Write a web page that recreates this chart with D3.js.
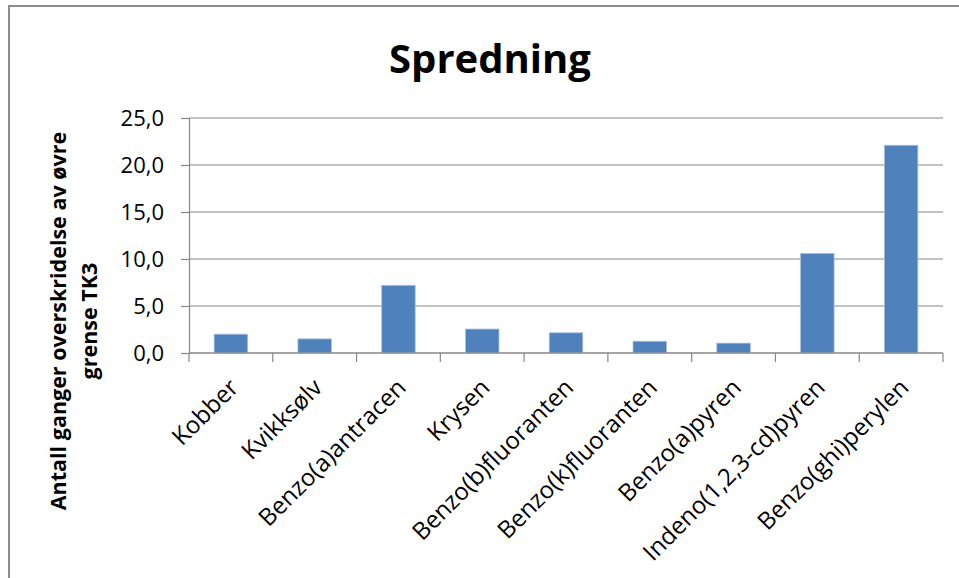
<!DOCTYPE html>
<html>
<head>
<meta charset="utf-8">
<script src="https://cdn.jsdelivr.net/npm/d3@7"></script>
<style>
  body { margin: 0; background: #fff; }
  text { font-family: "Open Sans", "Noto Sans", sans-serif; fill: #000; }
</style>
</head>
<body>
<svg id="chart" width="959" height="578"></svg>
<script>
var categories = [
  'Kobber', 'Kvikksølv', 'Benzo(a)antracen', 'Krysen', 'Benzo(b)fluoranten',
  'Benzo(k)fluoranten', 'Benzo(a)pyren', 'Indeno(1,2,3-cd)pyren', 'Benzo(ghi)perylen'
];
var values = [2.0, 1.5, 7.2, 2.55, 2.15, 1.25, 1.05, 10.6, 22.1];
var yTicks = [0, 5, 10, 15, 20, 25];
var title = 'Spredning';
var yTitle = ['Antall ganger overskridelse av øvre', 'grense TK3'];

var svg = d3.select('#chart');
var plotLeft = 189, plotRight = 943, plotTop = 118, plotBottom = 353;
var gridColor = '#878787';

// outer frame of the chart area (runs off the right and bottom edges)
svg.append('rect')
  .attr('x', 9).attr('y', 6)
  .attr('width', 980).attr('height', 600)
  .attr('fill', 'none')
  .attr('stroke', '#8c8c8c')
  .attr('stroke-width', 2);

var x = d3.scaleBand().domain(categories).range([plotLeft, plotRight]);
var y = d3.scaleLinear().domain([0, 25]).range([plotBottom, plotTop]);
var fmt = function (v) { return d3.format('.1f')(v).replace('.', ','); };

// gridlines
svg.append('g')
  .selectAll('line')
  .data(yTicks)
  .enter()
  .append('line')
  .attr('x1', plotLeft).attr('x2', plotRight)
  .attr('y1', y).attr('y2', y)
  .attr('stroke', gridColor)
  .attr('stroke-width', 1.2);

// y axis
var yAxis = svg.append('g')
  .attr('transform', 'translate(' + plotLeft + ',0)')
  .call(d3.axisLeft(y).tickValues(yTicks).tickSize(8).tickPadding(17).tickFormat(fmt));
yAxis.select('.domain').attr('stroke', gridColor).attr('stroke-width', 1.2);
yAxis.selectAll('.tick line').attr('stroke', gridColor).attr('stroke-width', 1.2);
yAxis.selectAll('.tick text')
  .attr('font-size', 22)
  .attr('fill', '#000')
  .style('font-family', '"Open Sans", sans-serif');

// bars
svg.append('g')
  .selectAll('rect')
  .data(values)
  .enter()
  .append('rect')
  .attr('x', function (d, i) { return x(categories[i]) + x.bandwidth() * 0.3; })
  .attr('width', x.bandwidth() * 0.4)
  .attr('y', function (d) { return y(d); })
  .attr('height', function (d) { return y(0) - y(d); })
  .attr('fill', '#4f81bd')
  .attr('stroke', '#a9c0de')
  .attr('stroke-width', 0.8);

// x axis line and ticks at band edges
svg.append('line')
  .attr('x1', plotLeft).attr('x2', plotRight)
  .attr('y1', plotBottom).attr('y2', plotBottom)
  .attr('stroke', gridColor).attr('stroke-width', 1.2);
var edges = categories.map(function (c) { return x(c); }).concat([plotRight]);
svg.append('g')
  .selectAll('line')
  .data(edges)
  .enter()
  .append('line')
  .attr('x1', function (d) { return d; }).attr('x2', function (d) { return d; })
  .attr('y1', plotBottom).attr('y2', plotBottom + 9)
  .attr('stroke', gridColor).attr('stroke-width', 1.2);

// rotated category labels
svg.append('g')
  .selectAll('text')
  .data(categories)
  .enter()
  .append('text')
  .attr('transform', function (d) {
    return 'translate(' + (x(d) + x.bandwidth() / 2 + 9) + ',' + (plotBottom + 36) + ') rotate(-45)';
  })
  .attr('text-anchor', 'end')
  .attr('font-size', 24)
  .text(function (d) { return d; });

// title
svg.append('text')
  .attr('x', 490).attr('y', 73)
  .attr('text-anchor', 'middle')
  .attr('font-size', 40)
  .attr('font-weight', 'bold')
  .text(title);

// y axis title, two lines
svg.append('text')
  .attr('transform', 'translate(66,321) rotate(-90)')
  .attr('text-anchor', 'middle')
  .attr('font-size', 21.5)
  .attr('font-weight', 'bold')
  .selectAll('tspan')
  .data(yTitle)
  .enter()
  .append('tspan')
  .attr('x', 0)
  .attr('dy', function (d, i) { return i === 0 ? 0 : 31; })
  .text(function (d) { return d; });
</script>
</body>
</html>
